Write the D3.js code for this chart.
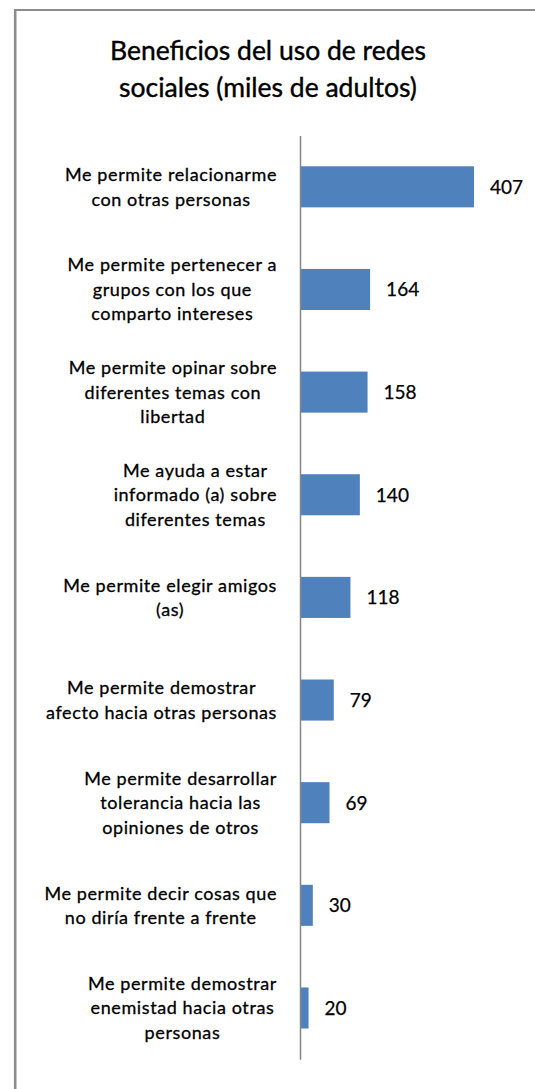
<!DOCTYPE html>
<html>
<head>
<meta charset="utf-8">
<script src="https://cdn.jsdelivr.net/npm/d3@7"></script>
<style>
  html, body { margin: 0; padding: 0; background: #fff; }
  svg { display: block; }
</style>
</head>
<body>
<svg id="chart" width="535" height="1089"></svg>
<script>
const categories = [
  ["Me permite relacionarme", "con otras personas"],
  ["Me permite pertenecer a", "grupos con los que", "comparto intereses"],
  ["Me permite opinar sobre", "diferentes temas con", "libertad"],
  ["Me ayuda a estar", "informado (a) sobre", "diferentes temas"],
  ["Me permite elegir amigos", "(as)"],
  ["Me permite demostrar", "afecto hacia otras personas"],
  ["Me permite desarrollar", "tolerancia hacia las", "opiniones de otros"],
  ["Me permite decir cosas que", "no diría frente a frente"],
  ["Me permite demostrar", "enemistad hacia otras", "personas"]
];
const values = [407, 164, 158, 140, 118, 79, 69, 30, 20];
const titleLines = ["Beneficios del uso de redes", "sociales (miles de adultos)"];

const svg = d3.select("#chart");
const W = 535, H = 1089;
const fontFam = "Lato, 'Open Sans', sans-serif";

// frame
svg.append("line").attr("x1", 15.2).attr("x2", W).attr("y1", 10).attr("y2", 10)
  .attr("stroke", "#8c8c8c").attr("stroke-width", 2.2);
svg.append("line").attr("x1", 15.2).attr("x2", 15.2).attr("y1", 9).attr("y2", H)
  .attr("stroke", "#8c8c8c").attr("stroke-width", 2.6);

// title
svg.append("g").selectAll("text").data(titleLines).join("text")
  .attr("x", 268).attr("y", (d, i) => 60 + i * 37)
  .attr("text-anchor", "middle")
  .attr("font-family", fontFam).attr("font-size", 26.5)
  .attr("fill", "#000").attr("stroke", "#000").attr("stroke-width", 0.4)
  .text(d => d);

const x0 = 300;
const x = d3.scaleLinear().domain([0, 407]).range([x0, 474]);
const y = d3.scaleBand().domain(d3.range(values.length)).range([135.5, 1059.3]).paddingInner(0.6).paddingOuter(0.3);

// bars
svg.append("g").selectAll("rect").data(values).join("rect")
  .attr("x", x(0)).attr("y", (d, i) => y(i))
  .attr("width", d => x(d) - x(0)).attr("height", y.bandwidth())
  .attr("fill", "#4F81BD");

// axis line
const axis = d3.axisLeft(y).tickSize(0).tickFormat("");
const ag = svg.append("g").attr("transform", `translate(${x0},0)`).call(axis);
ag.select(".domain").attr("stroke", "#868686").attr("stroke-width", 1.5);

// value labels
svg.append("g").selectAll("text").data(values).join("text")
  .attr("x", d => x(d) + 16)
  .attr("y", (d, i) => y(i) + y.bandwidth() / 2 + 7)
  .attr("font-family", fontFam).attr("font-size", 19)
  .attr("fill", "#000").attr("stroke", "#000").attr("stroke-width", 0.25)
  .text(d => d);

// category labels: block right edge at 277, lines centered within block
const lh = 24.5;
const lblRight = 277;
const cg = svg.append("g");
categories.forEach((lines, i) => {
  const cy = y(i) + y.bandwidth() / 2;
  const g = cg.append("g");
  const texts = g.selectAll("text").data(lines).join("text")
    .attr("font-family", fontFam).attr("font-size", 18)
    .attr("letter-spacing", 0.6)
    .attr("fill", "#000").attr("stroke", "#000").attr("stroke-width", 0.3)
    .attr("text-anchor", "middle")
    .attr("y", (d, j) => cy + 6.5 + (j - (lines.length - 1) / 2) * lh)
    .text(d => d);
  let maxW = 0;
  texts.each(function () { maxW = Math.max(maxW, this.getComputedTextLength()); });
  texts.attr("x", lblRight - maxW / 2);
});
</script>
</body>
</html>
